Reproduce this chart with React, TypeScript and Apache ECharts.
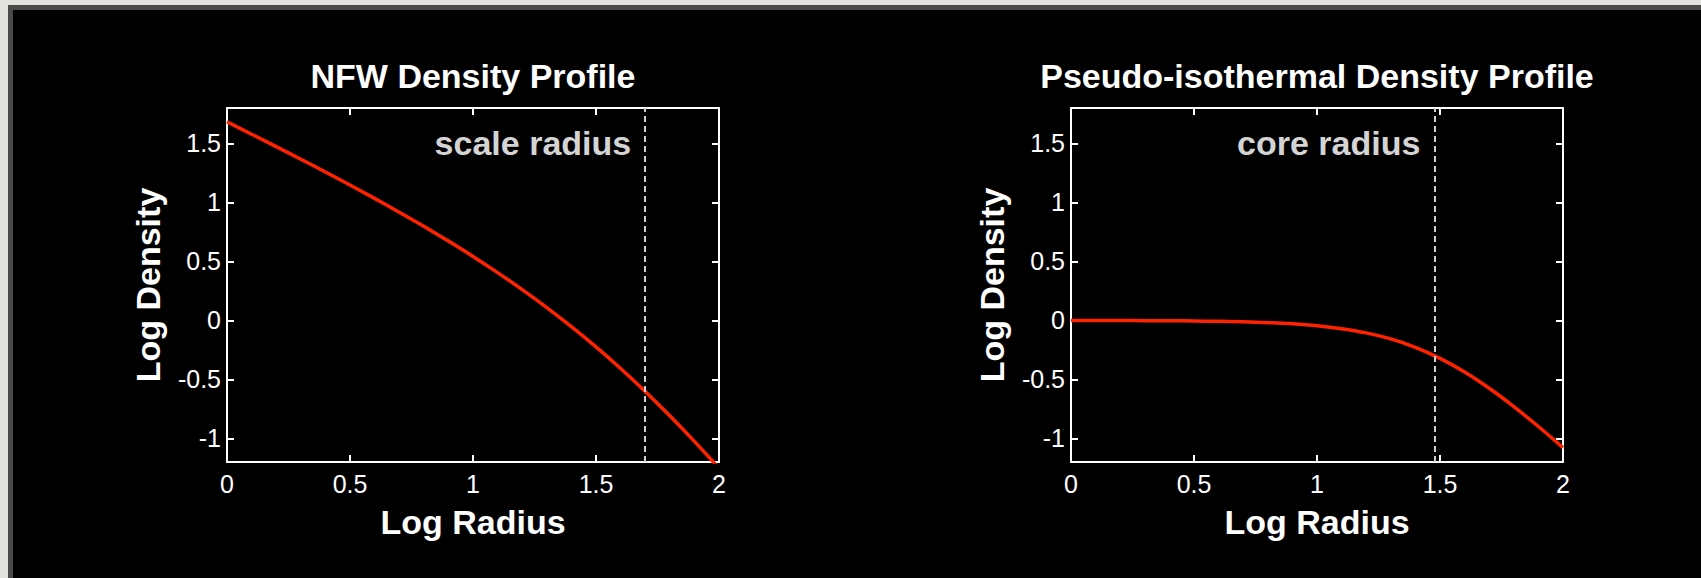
import React, { useEffect, useRef } from "react";
import * as echarts from "echarts";

const logRadius = [0, 0.1, 0.2, 0.3, 0.4, 0.5, 0.6, 0.7, 0.8, 0.9, 1.0, 1.1, 1.2, 1.3, 1.4, 1.5, 1.6, 1.7, 1.8, 1.9, 2.0];
const nfwDensity = [1.683, 1.578, 1.473, 1.366, 1.258, 1.147, 1.034, 0.917, 0.797, 0.672, 0.542, 0.405, 0.261, 0.109, -0.053, -0.225, -0.408, -0.602, -0.808, -1.025, -1.253];
const isoDensity = [0.0, -0.001, -0.001, -0.002, -0.003, -0.005, -0.008, -0.012, -0.019, -0.029, -0.045, -0.07, -0.106, -0.157, -0.228, -0.322, -0.437, -0.575, -0.73, -0.899, -1.078];

const titles = ["NFW Density Profile", "Pseudo-isothermal Density Profile"];
const markerNames = ["scale radius", "core radius"];
const markerRadius = [1.7, 1.477];
const markerLabelY = [1.5, 1.5];
const xName = "Log Radius";
const yName = "Log Density";
const xRange = [0, 2];
const yRange = [-1.2, 1.8];

const FONT = "'Liberation Sans', Arial, Helvetica, sans-serif";
const RED = "#ff2200";
const GRIDS = [
  { left: 227, top: 108, width: 492, height: 354 },
  { left: 1071, top: 108, width: 492, height: 354 },
];

function fmt(v: number) {
  const d = v * 2;
  if (Math.abs(d - Math.round(d)) > 1e-6) return "";
  return String(Math.round(v * 10) / 10);
}

export default function App() {
  const ref = useRef<HTMLDivElement>(null);
  useEffect(() => {
    if (!ref.current) return;
    const chart = echarts.init(ref.current, undefined, { renderer: "svg" });
    const axisLine = { show: true, onZero: false, lineStyle: { color: "#ffffff", width: 2 } };
    const axisTick = { show: true, inside: true, length: 7, lineStyle: { color: "#ffffff", width: 2 } };
    const xAxes: any[] = [];
    const yAxes: any[] = [];
    GRIDS.forEach((_, gi) => {
      xAxes.push({
        type: "value", gridIndex: gi, position: "bottom", min: xRange[0], max: xRange[1], interval: 0.5,
        axisLine, axisTick, splitLine: { show: false },
        axisLabel: { color: "#ffffff", fontFamily: FONT, fontSize: 25, margin: 9, formatter: fmt },
        name: xName, nameLocation: "middle", nameGap: 43,
        nameTextStyle: { color: "#ffffff", fontFamily: FONT, fontSize: 34, fontWeight: "bold" },
      });
      xAxes.push({
        type: "value", gridIndex: gi, position: "top", min: xRange[0], max: xRange[1], interval: 0.5,
        axisLine, axisTick, splitLine: { show: false }, axisLabel: { show: false },
      });
      yAxes.push({
        type: "value", gridIndex: gi, position: "left", min: yRange[0], max: yRange[1], splitNumber: 6,
        axisLine, axisTick, splitLine: { show: false },
        axisLabel: { color: "#ffffff", fontFamily: FONT, fontSize: 25, margin: 6, formatter: fmt, showMinLabel: false, showMaxLabel: false },
        name: yName, nameLocation: "middle", nameGap: 62,
        nameTextStyle: { color: "#ffffff", fontFamily: FONT, fontSize: 34, fontWeight: "bold" },
      });
      yAxes.push({
        type: "value", gridIndex: gi, position: "right", min: yRange[0], max: yRange[1], splitNumber: 6,
        axisLine, axisTick, splitLine: { show: false }, axisLabel: { show: false },
      });
    });
    const curves = [nfwDensity, isoDensity];
    const series: any[] = curves.map((vals, gi) => ({
      type: "line",
      xAxisIndex: gi * 2,
      yAxisIndex: gi * 2,
      data: logRadius.map((r, i) => [r, vals[i]]),
      showSymbol: false,
      smooth: 0.3,
      clip: true,
      lineStyle: { color: RED, width: 3.5 },
      markLine: {
        silent: true,
        symbol: "none",
        label: { show: false },
        lineStyle: { color: "#cfcfcf", width: 2, type: [6, 4] },
        data: [{ xAxis: markerRadius[gi] }],
      },
      markPoint: {
        silent: true,
        symbol: "circle",
        symbolSize: 0,
        data: [{ coord: [markerRadius[gi] - 0.057, markerLabelY[gi]] }],
        label: {
          show: true, position: "left", distance: 0,
          formatter: markerNames[gi],
          color: "#d4d4d4", fontFamily: FONT, fontSize: 34, fontWeight: "bold",
        },
      },
    }));
    chart.setOption({
      animation: false,
      backgroundColor: "transparent",
      title: titles.map((t, gi) => ({
        text: t,
        left: GRIDS[gi].left + GRIDS[gi].width / 2,
        top: 59,
        textAlign: "center",
        padding: 0,
        textStyle: { color: "#ffffff", fontFamily: FONT, fontSize: 34, fontWeight: "bold" },
      })),
      grid: GRIDS.map((g) => ({ ...g, containLabel: false })),
      xAxis: xAxes,
      yAxis: yAxes,
      series,
    });
    return () => chart.dispose();
  }, []);
  return (
    <div style={{ position: "absolute", left: 0, top: 0, width: 1701, height: 578, background: "#e2e2de", overflow: "hidden" }}>
      <div style={{ position: "absolute", left: 8, top: 5, width: 1693, height: 573, background: "#4a4a4a" }} />
      <div style={{ position: "absolute", left: 13, top: 10, width: 1688, height: 568, background: "#000000" }} />
      <div ref={ref} style={{ position: "absolute", left: 0, top: 0, width: 1701, height: 578 }} />
    </div>
  );
}
